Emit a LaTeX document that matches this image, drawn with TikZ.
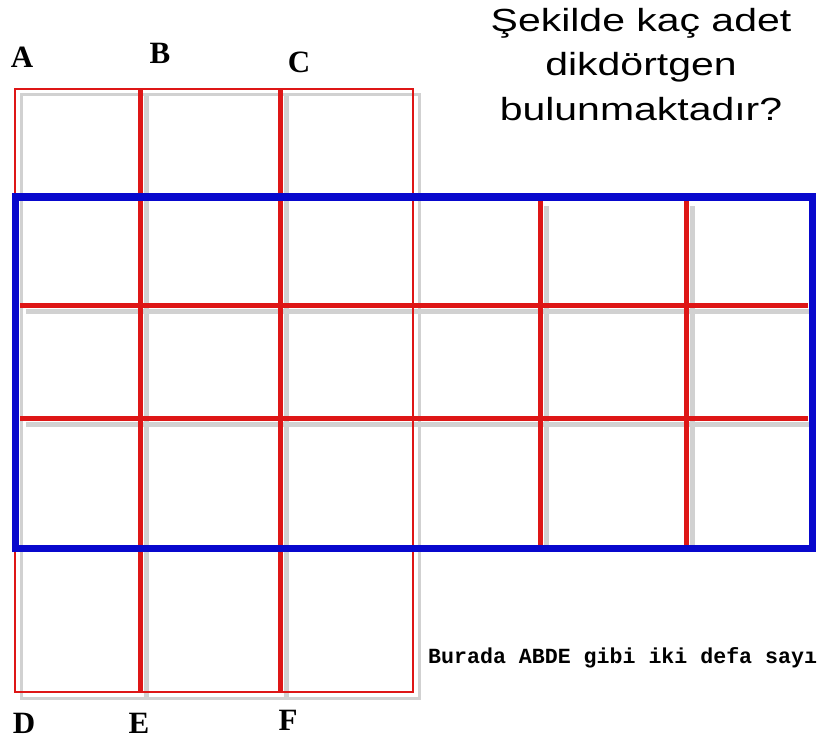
\documentclass[tikz,border=0pt]{standalone}
\usepackage{fontspec}
\setmainfont{Liberation Serif}
\newfontfamily\titlefont{Liberation Sans}
\newfontfamily\notefont{Liberation Mono}
\usetikzlibrary{positioning}

\definecolor{gridred}{RGB}{222,22,22}
\definecolor{boxblue}{RGB}{8,8,205}

\begin{document}
\begin{tikzpicture}[
    x=1pt, y=-1pt,
    thinred/.style={draw=gridred, line width=2pt},
    thickred/.style={draw=gridred, line width=5pt},
    bluebox/.style={draw=boxblue, line width=7pt},
    shadowline/.style={draw=black!18, line width=5pt},
    letter/.style={font=\bfseries\fontsize{31}{31}\selectfont, inner sep=0pt},
    title/.style={font=\titlefont\fontsize{32}{44}\selectfont, xscale=1.28, anchor=base, inner sep=0pt},
    note/.style={font=\notefont\bfseries\fontsize{21.6}{22}\selectfont, anchor=base west, inner sep=0pt}
]

\useasboundingbox (0,0) rectangle (817,741);
\clip (0,0) rectangle (817,741);

% Shadows of the grid
\begin{scope}[shift={(6,6)}]
    \draw[shadowline, line width=3pt] (15,89) rectangle (413,692);
    \foreach \x in {140, 280} {
        \draw[shadowline] (\x,89) -- (\x,692);
    }
    \foreach \x in {540, 686} {
        \draw[shadowline] (\x,200) -- (\x,545);
    }
    \foreach \y in {305, 418} {
        \draw[shadowline] (20,\y) -- (805,\y);
    }
\end{scope}

% Tall red rectangle (columns A-B-C)
\draw[thinred] (15,89) rectangle (413,692);
\foreach \x in {140, 280} {
    \draw[thickred] (\x,89) -- (\x,692);
}

% Red lines inside the blue box
\foreach \x in {540, 686} {
    \draw[thickred] (\x,200) -- (\x,545);
}
\foreach \y in {305, 418} {
    \draw[thickred] (20,\y) -- (808,\y);
}

% Blue box
\draw[bluebox] (15,197) rectangle (812,548);

% Corner letters
\node[letter] (A) at (22,57) {A};
\node[letter] (B) at (160,53) {B};
\node[letter] (C) at (299,62) {C};
\node[letter] (D) at (24,723) {D};
\node[letter] (E) at (139,723) {E};
\node[letter] (F) at (288,720) {F};

% Question
\node[title] (title1) at (641,32) {Şekilde kaç adet};
\node[title] (title2) at (641,76) {dikdörtgen};
\node[title] (title3) at (641,121) {bulunmaktadır?};

% Note
\node[note] (note) at (428,663) {Burada ABDE gibi iki defa sayı};

\end{tikzpicture}
\end{document}
